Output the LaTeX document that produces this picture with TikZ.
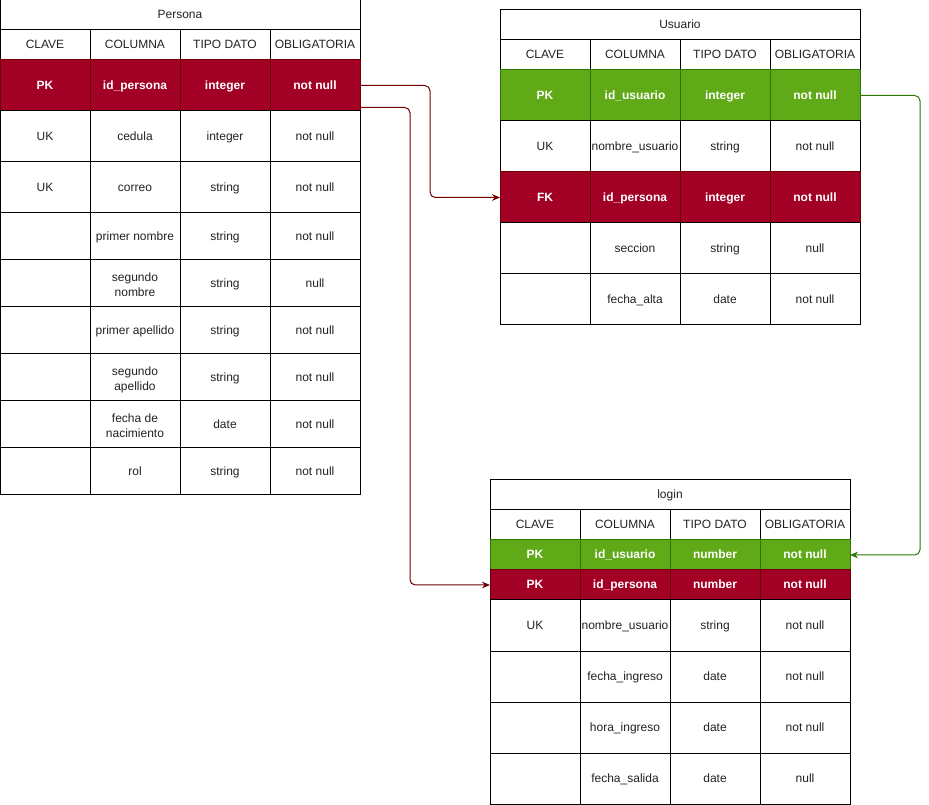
\documentclass[tikz,border=0pt]{standalone}
\usepackage{fontspec}
\setmainfont{Liberation Sans}
\usetikzlibrary{arrows.meta}
\usetikzlibrary{calc}

\definecolor{rojo}{HTML}{A20025}
\definecolor{rojoborde}{HTML}{6F0000}
\definecolor{verde}{HTML}{60A917}
\definecolor{verdeborde}{HTML}{2D7600}
\definecolor{texto}{HTML}{222222}

\tikzset{
  celda/.style={draw=black,line width=0.75pt,inner sep=0pt,outer sep=0pt,
    minimum width=67.5pt,align=center,text=texto,font=\fontsize{9}{11}\selectfont,
    text height=7.2pt,text depth=1.2pt},
  titulo/.style={celda,minimum width=270pt,minimum height=22.5pt},
  pkverde/.style={fill=verde,draw=verdeborde,text=white,font=\fontsize{9}{11}\selectfont\bfseries},
  pkrojo/.style={fill=rojo,draw=rojoborde,text=white,font=\fontsize{9}{11}\selectfont\bfseries},
  relacion/.style={line width=0.75pt,rounded corners=4pt,-{Stealth[length=6pt,width=5pt]}},
}

% texto en dos lineas dentro de una celda
\newcommand{\dosl}[2]{\raisebox{-7pt}{\def\arraystretch{1.05}\begin{tabular}[b]{@{}c@{}}#1\\#2\end{tabular}}}

% una fila de tabla: nombre, x izq, y sup, alto, estilo, cuatro textos
\newcommand{\fila}[9]{%
  \node[celda,#5,minimum height={#4*0.75pt}] (#1-1) at (#2+45,#3+#4/2) {#6};
  \node[celda,#5,minimum height={#4*0.75pt}] (#1-2) at (#2+135,#3+#4/2) {#7};
  \node[celda,#5,minimum height={#4*0.75pt}] (#1-3) at (#2+225,#3+#4/2) {#8};
  \node[celda,#5,minimum height={#4*0.75pt}] (#1-4) at (#2+315,#3+#4/2) {#9};
}

\begin{document}
\begin{tikzpicture}[x=0.75pt,y=-0.75pt]
  \useasboundingbox (0,0) rectangle (929,805);

  % Persona
  \node[titulo] (persona) at (180,15) {Persona};
  \fila{per-h}{0}{30}{30}{}{CLAVE}{COLUMNA}{TIPO DATO}{OBLIGATORIA}
  \fila{per-pk}{0}{60}{51}{pkrojo}{PK}{id\_persona}{integer}{not null}
  \fila{per-r1}{0}{111}{51}{}{UK}{cedula}{integer}{not null}
  \fila{per-r2}{0}{162}{51}{}{UK}{correo}{string}{not null}
  \fila{per-r3}{0}{213}{47}{}{}{primer nombre}{string}{not null}
  \fila{per-r4}{0}{260}{47}{}{}{\dosl{segundo}{nombre}}{string}{null}
  \fila{per-r5}{0}{307}{47}{}{}{primer apellido}{string}{not null}
  \fila{per-r6}{0}{354}{47}{}{}{\dosl{segundo}{apellido}}{string}{not null}
  \fila{per-r7}{0}{401}{47}{}{}{\dosl{fecha de}{nacimiento}}{date}{not null}
  \fila{per-r8}{0}{448}{47}{}{}{rol}{string}{not null}

  % Usuario
  \node[titulo] (usuario) at (680,25) {Usuario};
  \fila{usu-h}{500}{40}{30}{}{CLAVE}{COLUMNA}{TIPO DATO}{OBLIGATORIA}
  \fila{usu-pk}{500}{70}{51}{pkverde}{PK}{id\_usuario}{integer}{not null}
  \fila{usu-r1}{500}{121}{51}{}{UK}{nombre\_usuario}{string}{not null}
  \fila{usu-fk}{500}{172}{51}{pkrojo}{FK}{id\_persona}{integer}{not null}
  \fila{usu-r2}{500}{223}{51}{}{}{seccion}{string}{null}
  \fila{usu-r3}{500}{274}{51}{}{}{fecha\_alta}{date}{not null}

  % login
  \node[titulo] (login) at (670,495) {login};
  \fila{log-h}{490}{510}{30}{}{CLAVE}{COLUMNA}{TIPO DATO}{OBLIGATORIA}
  \fila{log-pk1}{490}{540}{30}{pkverde}{PK}{id\_usuario}{number}{not null}
  \fila{log-pk2}{490}{570}{30}{pkrojo}{PK}{id\_persona}{number}{not null}
  \fila{log-r1}{490}{600}{51}{}{UK}{nombre\_usuario}{string}{not null}
  \fila{log-r2}{490}{651}{51}{}{}{fecha\_ingreso}{date}{not null}
  \fila{log-r3}{490}{702}{51}{}{}{hora\_ingreso}{date}{not null}
  \fila{log-r4}{490}{753}{51}{}{}{fecha\_salida}{date}{null}

  % relaciones
  \draw[relacion,rojoborde] (per-pk-4.east) -- ++(70,0) |- (usu-fk-1.west);
  \draw[relacion,rojoborde] ($(per-pk-4.east)+(0,22)$) -- ++(50,0) |- (log-pk2-1.west);
  \draw[relacion,verdeborde] (usu-pk-4.east) -- ++(60,0) |- (log-pk1-4.east);
\end{tikzpicture}
\end{document}
